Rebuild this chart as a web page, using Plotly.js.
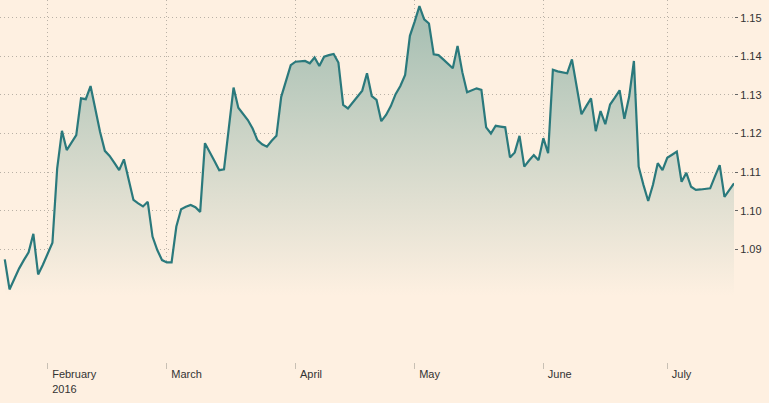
<!DOCTYPE html>
<html>
<head>
<meta charset="utf-8">
<script src="https://cdn.plot.ly/plotly-3.0.1.min.js"></script>
<style>
html,body{margin:0;padding:0;background:#fef0e1;}
#chart{width:769px;height:403px;}
</style>
</head>
<body>
<div id="chart"></div>
<script>
// EUR/USD daily (Sun–Fri, Saturdays absent), 21 Jan 2016 – 18 Jul 2016
const startDate = '2016-01-21';
const rangeStart = '2016-01-20';
const rangeEnd = '2016-07-18';

const values = [
  1.0874, 1.0796, 1.0823, 1.0850, 1.0872, 1.0892, 1.0940, 1.0835, 1.0860,
  1.0887, 1.0917, 1.1110, 1.1207, 1.1157, 1.1176, 1.1196, 1.1291, 1.1289, 1.1323,
  1.1263, 1.1204, 1.1155, 1.1142, 1.1124, 1.1105, 1.1133, 1.1080, 1.1028, 1.1019,
  1.1011, 1.1023, 1.0933, 1.0898, 1.0872,
  1.0866, 1.0866, 1.0959, 1.1004, 1.1010, 1.1015, 1.1009, 1.0997, 1.1175, 1.1150,
  1.1129, 1.1105, 1.1107, 1.1213, 1.1319, 1.1267, 1.1250, 1.1235, 1.1213, 1.1183,
  1.1172, 1.1166, 1.1181, 1.1194, 1.1295, 1.1336, 1.1377,
  1.1386, 1.1387, 1.1388, 1.1382, 1.1397, 1.1375, 1.1399, 1.1403, 1.1406, 1.1384,
  1.1274, 1.1265, 1.1281, 1.1297, 1.1311, 1.1356, 1.1297, 1.1287, 1.1232, 1.1248,
  1.1271, 1.1302, 1.1323, 1.1352, 1.1453,
  1.1490, 1.1530, 1.1496, 1.1485, 1.1405, 1.1403, 1.1392, 1.1381, 1.1369, 1.1427,
  1.1359, 1.1307, 1.1313, 1.1317, 1.1313, 1.1216, 1.1200, 1.1220, 1.1218, 1.1216,
  1.1138, 1.1151, 1.1194, 1.1114, 1.1130, 1.1144, 1.1131,
  1.1188, 1.1149, 1.1365, 1.1361, 1.1358, 1.1356, 1.1392, 1.1315, 1.1250, 1.1271,
  1.1291, 1.1206, 1.1258, 1.1224, 1.1275, 1.1293, 1.1312, 1.1238, 1.1295, 1.1388,
  1.1114, 1.1067, 1.1025, 1.1067, 1.1123, 1.1105,
  1.1137, 1.1145, 1.1153, 1.1075, 1.1098, 1.1062, 1.1054, 1.1055, 1.1056, 1.1058,
  1.1089, 1.1118, 1.1036, 1.1054, 1.1071
];

const monthTicks = ['2016-02-01', '2016-03-01', '2016-04-01', '2016-05-01', '2016-06-01', '2016-07-01'];
const monthLabels = ['February<br>2016', 'March', 'April', 'May', 'June', 'July'];

const yTicks = [1.09, 1.10, 1.11, 1.12, 1.13, 1.14, 1.15];
const yLabels = ['1.09', '1.10', '1.11', '1.12', '1.13', '1.14', '1.15'];

// trading calendar: every day except Saturday, one per value
function tradingDates(start, n) {
  const out = [];
  const p = start.split('-').map(Number);
  let t = Date.UTC(p[0], p[1] - 1, p[2]);
  while (out.length < n) {
    const d = new Date(t);
    if (d.getUTCDay() !== 6) out.push(d.toISOString().slice(0, 10));
    t += 86400000;
  }
  return out;
}
const dates = tradingDates(startDate, values.length);

const bg = '#fef0e1';
const gridCol = '#b9b1a6';
const font = {family: 'Liberation Sans, Arial, sans-serif', size: 11, color: '#333333'};

const trace = {
  x: dates,
  y: values,
  type: 'scatter',
  mode: 'lines',
  line: {color: '#2a797c', width: 2.2},
  fill: 'tozeroy',
  fillgradient: {
    type: 'vertical',
    start: 1.078,
    stop: 1.153,
    colorscale: [[0, 'rgba(254,240,225,1)'], [1, 'rgb(163,189,177)']]
  },
  hoverinfo: 'skip'
};

const layout = {
  width: 769,
  height: 403,
  margin: {l: 0, r: 35, t: 0, b: 41, pad: 0},
  paper_bgcolor: bg,
  plot_bgcolor: bg,
  showlegend: false,
  font: font,
  xaxis: {
    type: 'date',
    range: [rangeStart, rangeEnd],
    rangebreaks: [{bounds: ['sat', 'sun']}],
    tickmode: 'array',
    tickvals: monthTicks,
    ticktext: monthLabels,
    ticklabelposition: 'outside right',
    ticklabelshift: 4,
    ticklabelstandoff: 2,
    ticks: 'outside',
    ticklen: 6,
    tickwidth: 1,
    tickcolor: '#c8c0b4',
    showgrid: true,
    gridcolor: gridCol,
    griddash: '1px,3px',
    gridwidth: 1,
    showline: false,
    zeroline: false,
    tickfont: font,
    fixedrange: true
  },
  yaxis: {
    side: 'right',
    range: [1.0608, 1.15459],
    tickmode: 'array',
    tickvals: yTicks,
    ticktext: yLabels,
    ticks: 'outside',
    ticklen: 3,
    tickcolor: '#666666',
    showgrid: true,
    gridcolor: gridCol,
    griddash: '1px,3px',
    gridwidth: 1,
    showline: false,
    zeroline: false,
    tickfont: font,
    fixedrange: true
  }
};

Plotly.newPlot('chart', [trace], layout, {displayModeBar: false, staticPlot: true});
</script>
</body>
</html>
